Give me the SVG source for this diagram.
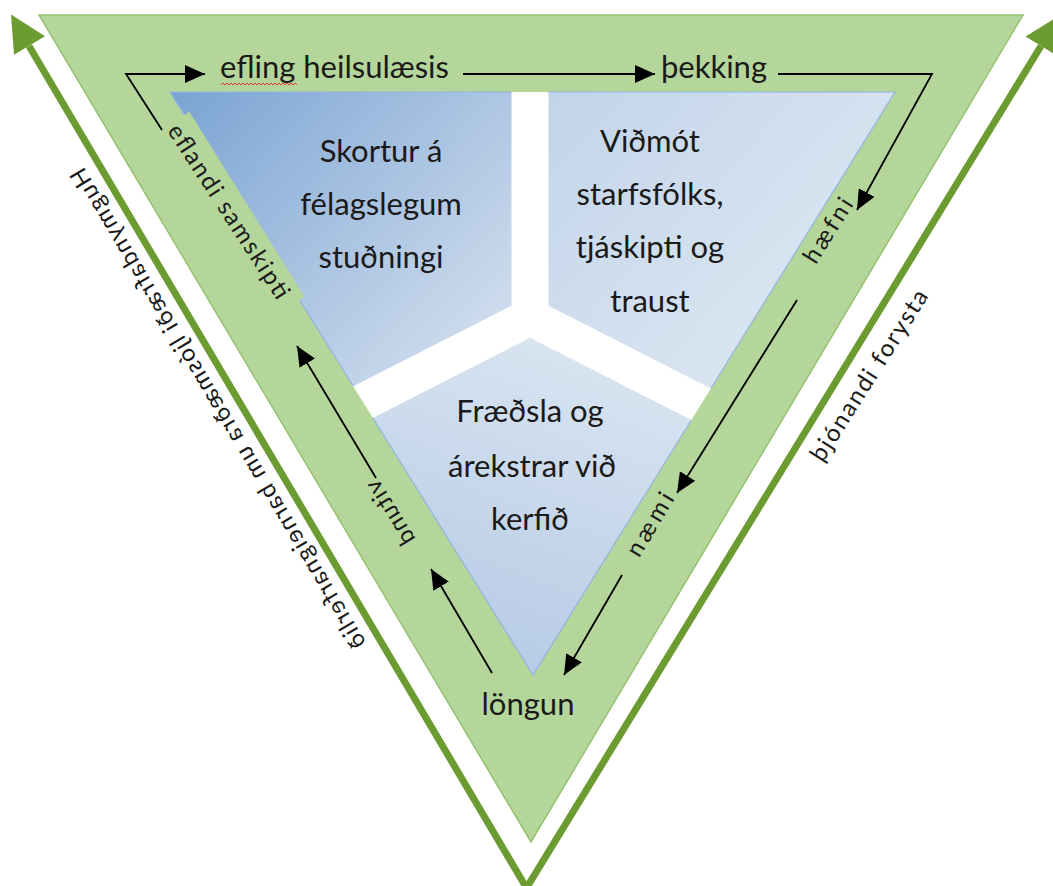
<svg xmlns="http://www.w3.org/2000/svg" width="1053" height="886" viewBox="0 0 1053 886">
<defs>
<style>
.lbl{font-family:Lato,'Liberation Sans',sans-serif;font-size:31px;fill:#1a1a1a;text-anchor:middle}
.sm{font-family:Lato,'Liberation Sans',sans-serif;font-size:24px;fill:#1a1a1a;text-anchor:middle}
.conn{fill:none;stroke:#000;stroke-width:1.8;marker-end:url(#ah)}
.edge{fill:none;stroke:#8fb4e0;stroke-width:1.2}
.band{fill:#b5d69b}
.garrow{fill:#6b9b31}
</style>
<marker id="ah" viewBox="0 0 20 18" refX="20" refY="9" markerWidth="20" markerHeight="18" markerUnits="userSpaceOnUse" orient="auto"><path d="M0,0 L20,9 L0,18 z" fill="#000"/></marker>
<linearGradient id="gL" gradientUnits="userSpaceOnUse" x1="170" y1="92" x2="470" y2="380"><stop offset="0" stop-color="#7aa3d3"/><stop offset="1" stop-color="#d2dfee"/></linearGradient>
<linearGradient id="gR" gradientUnits="userSpaceOnUse" x1="548" y1="92" x2="800" y2="330"><stop offset="0" stop-color="#c2d4ea"/><stop offset="1" stop-color="#dbe6f1"/></linearGradient>
<linearGradient id="gB" gradientUnits="userSpaceOnUse" x1="600" y1="340" x2="480" y2="675"><stop offset="0" stop-color="#dae5f1"/><stop offset="1" stop-color="#b5cae5"/></linearGradient>
</defs>
<rect x="0" y="0" width="1053" height="886" fill="#fff"/>

<g id="outer-arrows">
<path d="M29,46 L526.5,888 L1041,46" fill="none" stroke="#6b9b31" stroke-width="7"/>
<polygon class="garrow" points="11,14.5 45,36.3 14,54.7"/>
<polygon class="garrow" points="1059.8,15.3 1025.6,36.6 1056.4,55.4"/>
</g>

<g id="green-band">
<polygon class="band" points="39,15 1023,15 531,842" stroke="#95c26f" stroke-width="1.5"/>
<polygon points="170,92 895,92 533,675" fill="#fff"/>
</g>

<g id="region-skortur">
<polygon points="170,92 511.5,92 511.5,305.7 353.3,386.3" fill="url(#gL)"/>
<path class="edge" d="M511.5,92 H170 L353.3,386.3"/>
<text class="lbl" x="381" y="162">Skortur á</text>
<text class="lbl" x="381" y="215">félagslegum</text>
<text class="lbl" x="381" y="268">stuðningi</text>
</g>
<g id="region-vidmot">
<polygon points="548.5,92 895,92 710.9,388.5 548.5,305.7" fill="url(#gR)"/>
<path class="edge" d="M548.5,92 H895 L710.9,388.5"/>
<text class="lbl" x="650" y="152">Viðmót</text>
<text class="lbl" x="650" y="205">starfsfólks,</text>
<text class="lbl" x="650" y="258">tjáskipti og</text>
<text class="lbl" x="650" y="312">traust</text>
</g>
<g id="region-fraedsla">
<polygon points="530,337.8 691.4,420 533,675 372.8,417.9" fill="url(#gB)"/>
<path class="edge" d="M372.8,417.9 L533,675 L691.4,420"/>
<text class="lbl" x="530" y="422">Fræðsla og</text>
<text class="lbl" x="532" y="477">árekstrar við</text>
<text class="lbl" x="530" y="530">kerfið</text>
</g>

<g id="label-efling">
<text class="lbl" x="334.5" y="78">efling heilsulæsis</text>
<path d="M221,85 l2,-2 2,2 2,-2 2,2 2,-2 2,2 2,-2 2,2 2,-2 2,2 2,-2 2,2 2,-2 2,2 2,-2 2,2 2,-2 2,2 2,-2 2,2 2,-2 2,2 2,-2 2,2 2,-2 2,2 2,-2 2,2 2,-2 2,2 2,-2 2,2 2,-2 2,2 2,-2 2,2 2,-2 2,2" fill="none" stroke="#e03a3a" stroke-width="1"/>
</g>
<g id="label-thekking"><text class="lbl" x="714" y="78">þekking</text></g>
<g id="label-hafni"><g transform="translate(829,231) rotate(-58)"><text class="sm" x="0" y="7" textLength="72">hæfni</text></g></g>
<g id="label-naemi"><g transform="translate(651,525) rotate(-59)"><text class="sm" x="0" y="7" textLength="70">næmi</text></g></g>
<g id="label-longun"><text class="lbl" x="528" y="715">löngun</text></g>
<g id="label-vitund"><g transform="translate(391,512) rotate(58) scale(1,-1)"><text class="sm" x="0" y="7" textLength="72">vitund</text></g></g>
<g id="label-eflandi">
<polygon class="band" points="189.4,111.8 304.6,296.8 282.5,310.6 167.3,125.6"/>
<g transform="translate(228,212) rotate(57)"><text class="sm" x="0" y="7" textLength="203">eflandi samskipti</text></g>
</g>
<g id="label-hugmyndafraedi"><g transform="translate(219,408) rotate(59.3) scale(1,-1)"><text class="sm" x="0" y="7" textLength="555">Hugmyndafræði ljósmæðra um barneignarferlið</text></g></g>
<g id="label-thjonandi"><g transform="translate(870,376) rotate(-57.6)"><text class="sm" x="0" y="7" textLength="198">þjónandi forysta</text></g></g>

<g id="connectors">
<path class="conn" d="M162,130 L126,74 L205,74"/>
<path class="conn" d="M463,74 L655,74"/>
<path class="conn" d="M778,74 L932,74 L857,210"/>
<path class="conn" d="M797,300 L677,493"/>
<path class="conn" d="M622,575 L564,675"/>
<path class="conn" d="M492,673 L431,569"/>
<path class="conn" d="M376,478 L297,346"/>
</g>
</svg>
